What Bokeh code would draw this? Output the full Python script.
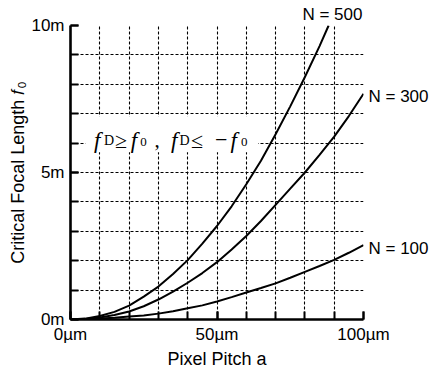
from bokeh.plotting import figure
from bokeh.models import Range1d, FixedTicker, Label, BoxAnnotation, PrintfTickFormatter, LinearAxis
from bokeh.embed import file_html
from bokeh.resources import INLINE

# ---- data ----
pitch_um = [0, 5, 10, 15, 20, 25, 30, 35, 40, 45, 50, 55, 60, 65, 70, 75, 80, 85, 90, 95, 100]
focal_n100 = [0, 0.01, 0.03, 0.06, 0.10, 0.14, 0.20, 0.28, 0.38, 0.48, 0.61, 0.76, 0.92, 1.07, 1.23, 1.42, 1.62, 1.82, 2.03, 2.27, 2.53]
focal_n300 = [0, 0.02, 0.07, 0.15, 0.27, 0.45, 0.68, 0.95, 1.25, 1.58, 1.95, 2.38, 2.84, 3.35, 3.90, 4.45, 5.00, 5.60, 6.22, 6.92, 7.68]
pitch_um_n500 = [0, 5, 10, 15, 20, 25, 30, 35, 40, 45, 50, 55, 60, 65, 70, 75, 80, 85, 88.1]
focal_n500 = [0, 0.03, 0.12, 0.26, 0.47, 0.78, 1.12, 1.55, 2.02, 2.58, 3.18, 3.85, 4.60, 5.40, 6.30, 7.25, 8.25, 9.30, 10.0]

curve_labels = ["N = 500", "N = 300", "N = 100"]
x_ticks = [0, 10, 20, 30, 40, 50, 60, 70, 80, 90, 100]
x_labelled = [0, 50, 100]
y_ticks = [0, 1, 2, 3, 4, 5, 6, 7, 8, 9, 10]
y_labelled = [0, 5, 10]
x_title = "Pixel Pitch a"
y_title = "Critical Focal Length 𝑓₀"

p = figure(width=435, height=371, output_backend="svg", toolbar_location=None,
           x_range=Range1d(0, 100), y_range=Range1d(0, 10),
           min_border_left=70, min_border_right=72, min_border_top=25, min_border_bottom=52)
p.outline_line_color = None
p.background_fill_color = "white"
p.border_fill_color = "white"

# grid
for g, t in ((p.xgrid, x_ticks), (p.ygrid, y_ticks)):
    g.ticker = FixedTicker(ticks=t)
    g.grid_line_color = "black"
    g.grid_line_dash = "3 2"
    g.grid_line_width = 1.1

# main axes
for ax, lab_t, minor, fmt in ((p.xaxis[0], x_labelled, x_ticks, "%dµm"), (p.yaxis[0], y_labelled, y_ticks, "%dm")):
    ax.ticker = FixedTicker(ticks=lab_t, minor_ticks=minor)
    ax.formatter = PrintfTickFormatter(format=fmt)
    ax.axis_line_width = 2.6
    ax.axis_line_color = "black"
    ax.major_tick_in = 8
    ax.major_tick_out = 0
    ax.minor_tick_in = 8
    ax.minor_tick_out = 0
    ax.major_tick_line_width = 2
    ax.minor_tick_line_width = 2
    ax.major_tick_line_color = "black"
    ax.minor_tick_line_color = "black"
    ax.major_label_text_font = "Liberation Sans"
    ax.major_label_text_font_size = "17px"
    ax.major_label_text_color = "black"
    ax.axis_label_text_font = "Liberation Sans"
    ax.axis_label_text_font_size = "18px"
    ax.axis_label_text_font_style = "normal"
    ax.axis_label_text_color = "black"
p.xaxis.major_label_standoff = 5
p.yaxis.major_label_standoff = 6
p.xaxis.axis_label = x_title
p.yaxis.axis_label = y_title
p.xaxis.axis_label_standoff = 2
p.yaxis.axis_label_standoff = 0

# curve labels as tick labels of plain side axes
def label_axis(ticks, labels, side, standoff):
    ax = LinearAxis(ticker=FixedTicker(ticks=ticks),
                    major_label_overrides={t: s for t, s in zip(ticks, labels)})
    ax.axis_line_color = None
    ax.major_tick_line_color = None
    ax.minor_tick_line_color = None
    ax.major_tick_in = 0
    ax.major_tick_out = 0
    ax.minor_tick_in = 0
    ax.minor_tick_out = 0
    ax.major_label_standoff = standoff
    ax.major_label_text_font = "Liberation Sans"
    ax.major_label_text_font_size = "17px"
    ax.major_label_text_color = "black"
    p.add_layout(ax, side)

label_axis([89.4], curve_labels[:1], "above", 2)
label_axis([7.59, 2.41], curve_labels[1:], "right", 5)

# white box behind the annotation
box = BoxAnnotation(left=5.1, right=64.0, bottom=5.69, top=6.91, fill_color="white",
                    fill_alpha=1.0, line_color=None, level="underlay")
p.add_layout(box)

# curves
p.line(pitch_um_n500, focal_n500, line_width=2, color="black")
p.line(pitch_um, focal_n300, line_width=2, color="black")
p.line(pitch_um, focal_n100, line_width=2, color="black")

def lab(x, y, text, font, size, style="normal"):
    p.add_layout(Label(x=x, y=y, text=text, text_font=font, text_font_size=size,
                       text_font_style=style, text_color="black", text_baseline="alphabetic"))

# annotation  f_D >= f_0 , f_D <= -f_0
S = "Liberation Serif"
yb = 6.1
lab(8.0, yb, "f", S, "23px", "italic")
lab(11.4, yb, "D", S, "14px")
lab(15.2, yb, "≥", S, "22px")
lab(20.6, yb, "f", S, "23px", "italic")
lab(23.8, 6.03, "0", S, "13px")
lab(28.7, yb, ",", S, "21px")
lab(34.3, yb, "f", S, "23px", "italic")
lab(37.2, yb, "D", S, "14px")
lab(41.1, yb, "≤", S, "22px")
lab(49.3, yb, "−", S, "22px")
lab(54.6, yb, "f", S, "23px", "italic")
lab(58.2, 6.03, "0", S, "13px")

open("out.html", "w").write(file_html(p, INLINE))
